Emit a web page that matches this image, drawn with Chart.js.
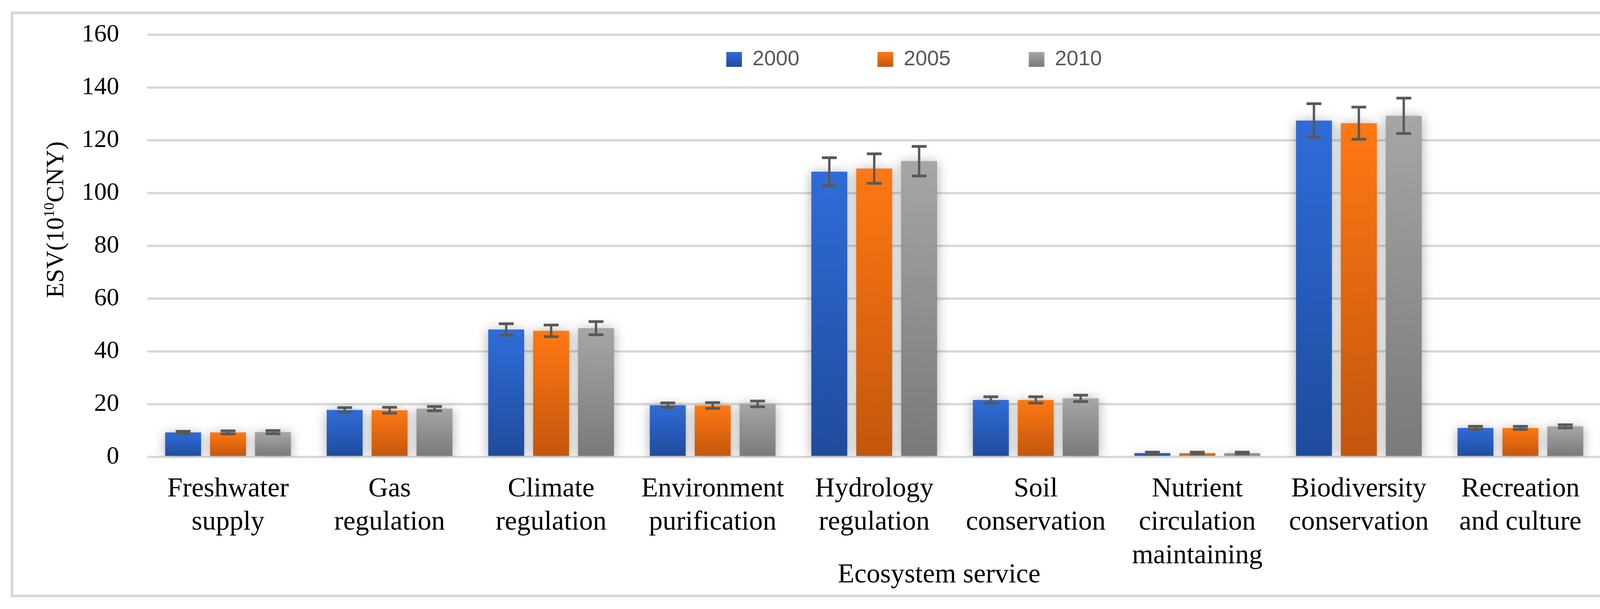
<!DOCTYPE html>
<html>
<head>
<meta charset="utf-8">
<script src="https://cdn.jsdelivr.net/npm/chart.js@4.4.1/dist/chart.umd.min.js"></script>
<style>
  html, body { margin: 0; padding: 0; background: #ffffff; }
  #wrap { position: relative; width: 4220px; height: 1558px; }
</style>
</head>
<body>
<div id="wrap"><canvas id="c"></canvas></div>
<script>
// ---------------- data ----------------
const categories = [
  ["Freshwater", "supply"],
  ["Gas", "regulation"],
  ["Climate", "regulation"],
  ["Environment", "purification"],
  ["Hydrology", "regulation"],
  ["Soil", "conservation"],
  ["Nutrient", "circulation", "maintaining"],
  ["Biodiversity", "conservation"],
  ["Recreation", "and culture"]
];
const seriesLabels = ["2000", "2005", "2010"];
const values2000 = [9.3, 17.8, 48.3, 19.6, 108.1, 21.6, 1.5, 127.5, 11.0];
const values2005 = [9.3, 17.7, 47.8, 19.5, 109.3, 21.6, 1.5, 126.5, 11.0];
const values2010 = [9.4, 18.3, 48.8, 20.1, 112.1, 22.2, 1.5, 129.3, 11.6];
const errors2000 = [0.4, 0.9, 2.2, 0.9, 5.3, 1.2, 0.3, 6.4, 0.6];
const errors2005 = [0.6, 1.1, 2.2, 1.1, 5.6, 1.2, 0.3, 6.1, 0.6];
const errors2010 = [0.6, 0.8, 2.5, 1.1, 5.6, 1.2, 0.3, 6.7, 0.6];
const yMin = 0, yMax = 160, yStep = 20;
const yTitleMain = "ESV(10", yTitleSup = "10", yTitleEnd = "CNY)";
const xTitle = "Ecosystem service";

// ---------------- styling ----------------
const SERIF = "'Liberation Serif', 'Times New Roman', serif";
const SANS = "'Liberation Sans', Arial, sans-serif";
const palette = [["#2F6CD9", "#1F4B9B"], ["#FF7812", "#C3560E"], ["#A6A6A6", "#797979"]];
const LEG_PAD = 200;
const LEG_ITEM_Y = 125;   // top of legend row
const LEG_BOX_H = 38;
const LEG_FONT = 54;

function gradient(c, top, bot, y0, y1) {
  const g = c.createLinearGradient(0, y0, 0, y1);
  g.addColorStop(0, top);
  g.addColorStop(1, bot);
  return g;
}

function barFill(ctx) {
  const chart = ctx.chart;
  const [top, bot] = palette[ctx.datasetIndex];
  const ys = chart.scales && chart.scales.y;
  if (!ys || ctx.type !== 'data') return top;
  const y0 = ys.getPixelForValue(ctx.raw);
  const y1 = ys.getPixelForValue(0);
  if (!isFinite(y0) || !isFinite(y1) || Math.abs(y1 - y0) < 0.5) return top;
  return gradient(chart.ctx, top, bot, y0, y1);
}

const framePlugin = {
  id: 'frame',
  beforeDraw(chart) {
    const c = chart.ctx;
    c.save();
    c.fillStyle = '#ffffff';
    c.fillRect(0, 0, chart.width, chart.height);
    c.strokeStyle = '#D9D9D9';
    c.lineWidth = 7;
    c.strokeRect(30.5, 33, 4151.5, 1491.5);
    c.restore();
  },
  afterDraw(chart) {
    const c = chart.ctx;
    c.save();
    c.fillStyle = '#000000';
    c.textBaseline = 'alphabetic';
    // y axis title (rotated, with superscript)
    const fMain = "64px " + SERIF, fSup = "38px " + SERIF;
    c.font = fMain; const w1 = c.measureText(yTitleMain).width; const w3 = c.measureText(yTitleEnd).width;
    c.font = fSup; const w2 = c.measureText(yTitleSup).width;
    const total = w1 + w2 + w3;
    c.translate(162, 562);
    c.rotate(-Math.PI / 2);
    let x = -total / 2;
    c.textAlign = 'left';
    c.font = fMain; c.fillText(yTitleMain, x, 0); x += w1;
    c.font = fSup; c.fillText(yTitleSup, x, -24); x += w2;
    c.font = fMain; c.fillText(yTitleEnd, x, 0);
    c.restore();
    // x axis title
    c.save();
    c.fillStyle = '#000000';
    c.font = "70px " + SERIF;
    c.textAlign = 'center';
    c.textBaseline = 'alphabetic';
    c.fillText(xTitle, 2404, 1490);
    c.restore();
  }
};

const errorBarPlugin = {
  id: 'errorBars',
  beforeDatasetsDraw(chart) {
    const c = chart.ctx;
    c.save();
    c.shadowColor = 'rgba(0,0,0,0.33)';
    c.shadowBlur = 28;
    c.shadowOffsetX = 0;
    c.shadowOffsetY = 3;
  },
  afterDatasetsDraw(chart) {
    const c = chart.ctx;
    c.restore();
    const ys = chart.scales.y;
    c.save();
    c.strokeStyle = '#595959';
    c.lineCap = 'butt';
    chart.data.datasets.forEach((ds, i) => {
      const meta = chart.getDatasetMeta(i);
      meta.data.forEach((bar, j) => {
        const v = ds.data[j], e = ds.errors[j];
        const yt = ys.getPixelForValue(v + e);
        const yb = ys.getPixelForValue(v - e);
        c.lineWidth = 6;
        c.beginPath(); c.moveTo(bar.x, yt); c.lineTo(bar.x, yb); c.stroke();
        c.lineWidth = 7;
        c.beginPath();
        c.moveTo(bar.x - 19, yt); c.lineTo(bar.x + 19, yt);
        c.moveTo(bar.x - 19, yb); c.lineTo(bar.x + 19, yb);
        c.stroke();
      });
    });
    c.restore();
  }
};

const legendMover = {
  id: 'legendMover',
  afterLayout(chart) {
    const L = chart.legend;
    if (!L) return;
    const cx = (chart.chartArea.left + chart.chartArea.right) / 2 + 102;
    const W = 3000;
    L.left = cx - W / 2;
    L.right = cx + W / 2;
    L.top = LEG_ITEM_Y - LEG_PAD;
    L.bottom = L.top + 500;
  }
};

const allValues = [values2000, values2005, values2010];
const allErrors = [errors2000, errors2005, errors2010];

new Chart(document.getElementById('c'), {
  type: 'bar',
  data: {
    labels: categories,
    datasets: seriesLabels.map((lab, i) => ({
      label: lab,
      data: allValues[i],
      errors: allErrors[i],
      backgroundColor: barFill,
      borderWidth: 0,
      categoryPercentage: 0.834,
      barPercentage: 0.8
    }))
  },
  options: {
    responsive: true,
    maintainAspectRatio: false,
    animation: false,
    devicePixelRatio: 1,
    layout: { padding: { top: 88, left: 0, right: 121, bottom: 0 } },
    plugins: {
      tooltip: { enabled: false },
      legend: {
        display: true,
        position: 'top',
        fullSize: false,
        maxHeight: 1,
        labels: {
          boxWidth: 40,
          boxHeight: LEG_BOX_H,
          padding: LEG_PAD,
          color: '#595959',
          font: { family: SANS, size: LEG_FONT },
          generateLabels(chart) {
            const items = Chart.defaults.plugins.legend.labels.generateLabels(chart);
            const y0 = LEG_ITEM_Y + (LEG_FONT - LEG_BOX_H) / 2;
            items.forEach((it, i) => {
              it.fillStyle = gradient(chart.ctx, palette[i][0], palette[i][1], y0, y0 + LEG_BOX_H);
              it.lineWidth = 0;
              it.strokeStyle = 'rgba(0,0,0,0)';
            });
            return items;
          }
        }
      }
    },
    scales: {
      x: {
        grid: { display: false, drawTicks: false },
        border: { display: false },
        ticks: {
          autoSkip: false,
          maxRotation: 0,
          minRotation: 0,
          padding: 40,
          color: '#000000',
          font: { family: SERIF, size: 70, lineHeight: 1.22 }
        },
        afterFit(scale) { scale.height = 389; scale.paddingLeft = 0; scale.paddingRight = 0; }
      },
      y: {
        min: yMin,
        max: yMax,
        grid: { color: '#D9D9D9', lineWidth: 6, drawTicks: false },
        border: { display: false },
        ticks: {
          stepSize: yStep,
          padding: 72,
          color: '#000000',
          font: { family: SERIF, size: 64 }
        },
        afterFit(scale) { scale.width = 377; scale.paddingTop = 0; scale.paddingBottom = 0; }
      }
    }
  },
  plugins: [framePlugin, errorBarPlugin, legendMover]
});
</script>
</body>
</html>
